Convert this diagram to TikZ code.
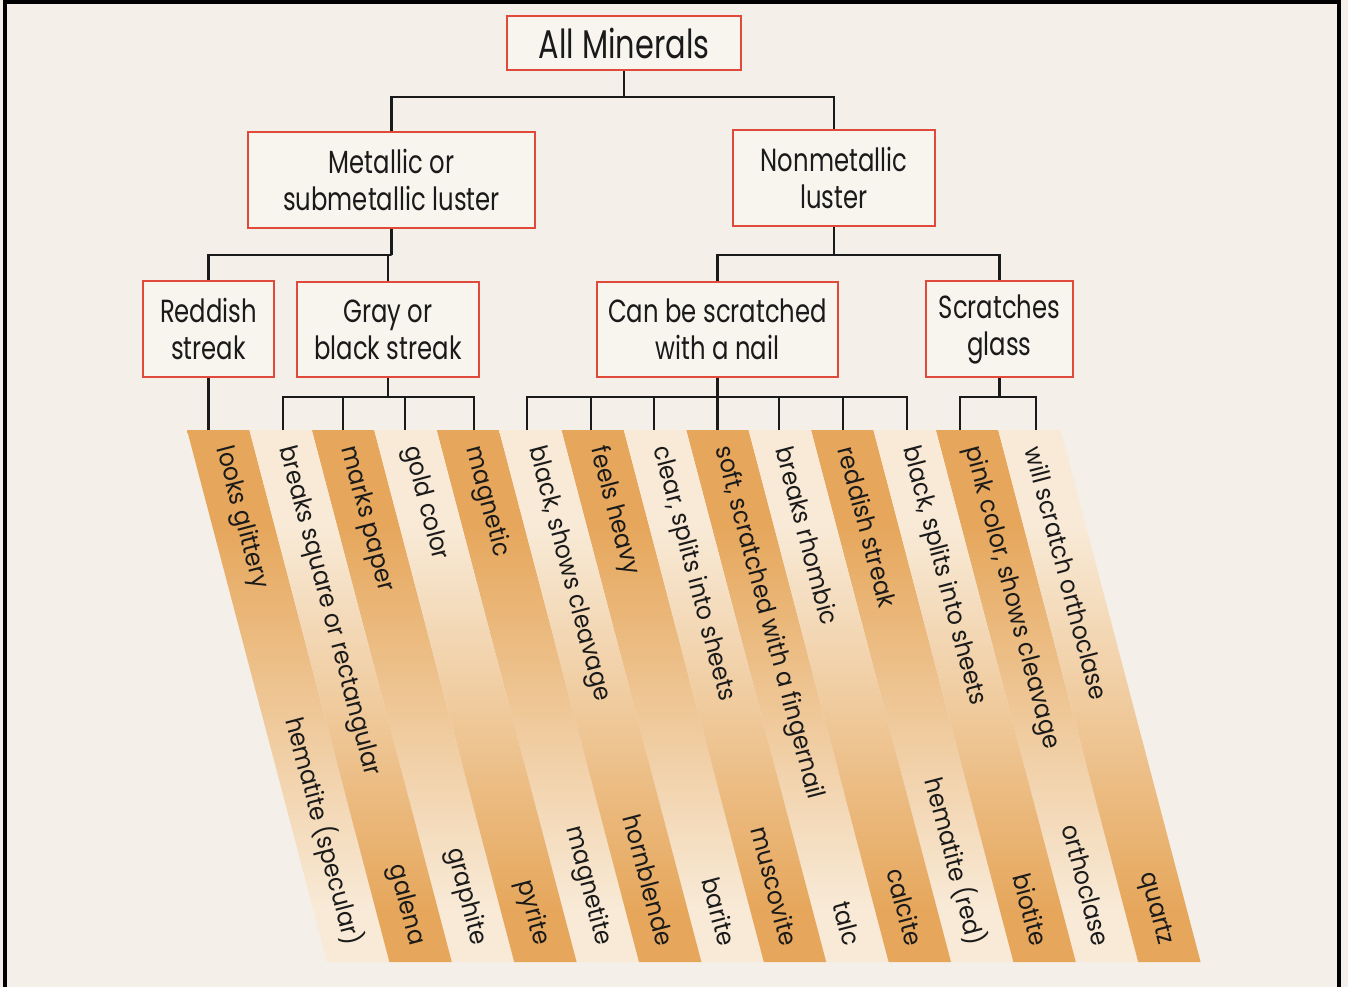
\documentclass[tikz,border=0pt]{standalone}
\usepackage{fontspec}
\setmainfont{Poppins}[FakeStretch=0.76]
\newfontfamily\bandfont{Poppins}[FakeStretch=0.93]
\usetikzlibrary{calc}
\definecolor{bg}{HTML}{F4F0E9}
\definecolor{boxfill}{HTML}{F8F5EF}
\definecolor{boxred}{HTML}{E04A3A}
\definecolor{orng}{HTML}{E6A75C}
\definecolor{pale}{HTML}{F8EAD7}
\definecolor{ink}{HTML}{1A1A1A}
\pgfdeclareverticalshading{bandOP}{100bp}{color(0bp)=(pale); color(30bp)=(pale); color(66bp)=(orng); color(100bp)=(orng)}
\pgfdeclareverticalshading{bandPO}{100bp}{color(0bp)=(orng); color(30bp)=(orng); color(66bp)=(pale); color(100bp)=(pale)}
\begin{document}
\begin{tikzpicture}[x=1pt,y=-1pt,
  box/.style={draw=boxred, line width=2.8pt, fill=boxfill, align=center, inner sep=0pt,
    font=\fontsize{32}{37}\selectfont, text=ink},
  conn/.style={line width=2.6pt, draw=ink},
  bandtxt/.style={rotate=-75.2, inner sep=0pt, font=\bandfont\fontsize{25}{28}\selectfont, text=ink},
  frame/.style={line width=4pt, draw=black}]
\useasboundingbox (0,0) rectangle (1348,987);
\fill[bg] (0,0) rectangle (1348,987);

% slanted bands
\foreach \i in {0,2,...,12}{
  \shade[shading=bandOP] ({187+62.4*\i},430) -- ({187+62.4*(\i+1)},430) -- ({327+62.4*(\i+1)},962) -- ({327+62.4*\i},962) -- cycle;
}
\foreach \i in {1,3,...,13}{
  \shade[shading=bandPO] ({187+62.4*\i},430) -- ({187+62.4*(\i+1)},430) -- ({327+62.4*(\i+1)},962) -- ({327+62.4*\i},962) -- cycle;
}

% band top texts
\foreach \t [count=\i from 0] in {looks glittery, breaks square or rectangular, marks paper, gold color, magnetic,
  {black, shows cleavage}, feels heavy, {clear, splits into sheets}, {soft, scratched with a fingernail},
  breaks rhombic, reddish streak, {black, splits into sheets}, {pink color, shows cleavage}, will scratch orthoclase}{
  \node[bandtxt, anchor=west] (d\i) at ({222.7+62.4*\i},447) {\t};
}
% band bottom texts
\foreach \t [count=\i from 0] in {hematite (specular), galena, graphite, pyrite, magnetite, hornblende, barite,
  muscovite, talc, calcite, hematite (red), biotite, orthoclase, quartz}{
  \node[bandtxt, anchor=east] (m\i) at ({353.6+62.4*\i},945) {\t};
}

% boxes
\node[box, minimum width=234pt, minimum height=54pt, font=\fontsize{40}{42}\selectfont] (allmin) at (624,43) {All Minerals};
\node[box, minimum width=287pt, minimum height=96pt] (metal) at (391.5,180) {Metallic or\\submetallic luster};
\node[box, minimum width=202pt, minimum height=96pt] (nonmet) at (834,178) {Nonmetallic\\luster};
\node[box, minimum width=131pt, minimum height=96pt] (reddish) at (208.5,329) {Reddish\\streak};
\node[box, minimum width=182pt, minimum height=95pt] (gray) at (388,329.5) {Gray or\\black streak};
\node[box, minimum width=241pt, minimum height=95pt] (can) at (717.5,329.5) {Can be scratched\\with a nail};
\node[box, minimum width=147pt, minimum height=96pt] (scr) at (999.5,329) {Scratches\\glass};

% leaf tops
\coordinate (t0) at (208.5,430);
\foreach \x [count=\i] in {283,343,405,474,527,591,654,717.5,779,843,907,960,1036}{
  \coordinate (t\i) at (\x,430);
}
% junctions
\coordinate (b0) at (624,97);
\coordinate (b1) at (391.5,255);
\coordinate (b2) at (834,255);
\coordinate (b3) at (388,397);
\coordinate (b4) at (717.5,397);
\coordinate (b5) at (999.5,397);

% connectors
\draw[conn] (allmin.south) -- (b0);
\draw[conn] (metal.north) |- (b0) -| (nonmet.north);
\draw[conn] (metal.south) -- (b1);
\draw[conn] (reddish.north) |- (b1) -| (gray.north);
\draw[conn] (nonmet.south) -- (b2);
\draw[conn] (can.north) |- (b2) -| (scr.north);
\draw[conn] (reddish.south) -- (t0);
\draw[conn] (gray.south) -- (b3);
\draw[conn] (t1) |- (b3) -| (t4);
\draw[conn] (t2) -- (t2 |- b3);
\draw[conn] (t3) -- (t3 |- b3);
\draw[conn] (can.south) -- (t8);
\draw[conn] (t5) |- (b4) -| (t11);
\foreach \k in {6,7,9,10}{ \draw[conn] (t\k) -- (t\k |- b4); }
\draw[conn] (scr.south) -- (b5);
\draw[conn] (t12) |- (b5) -| (t13);

% frame
\draw[frame] (5,987) -- (5,2) -- (1339,2) -- (1339,987);
\end{tikzpicture}
\end{document}
